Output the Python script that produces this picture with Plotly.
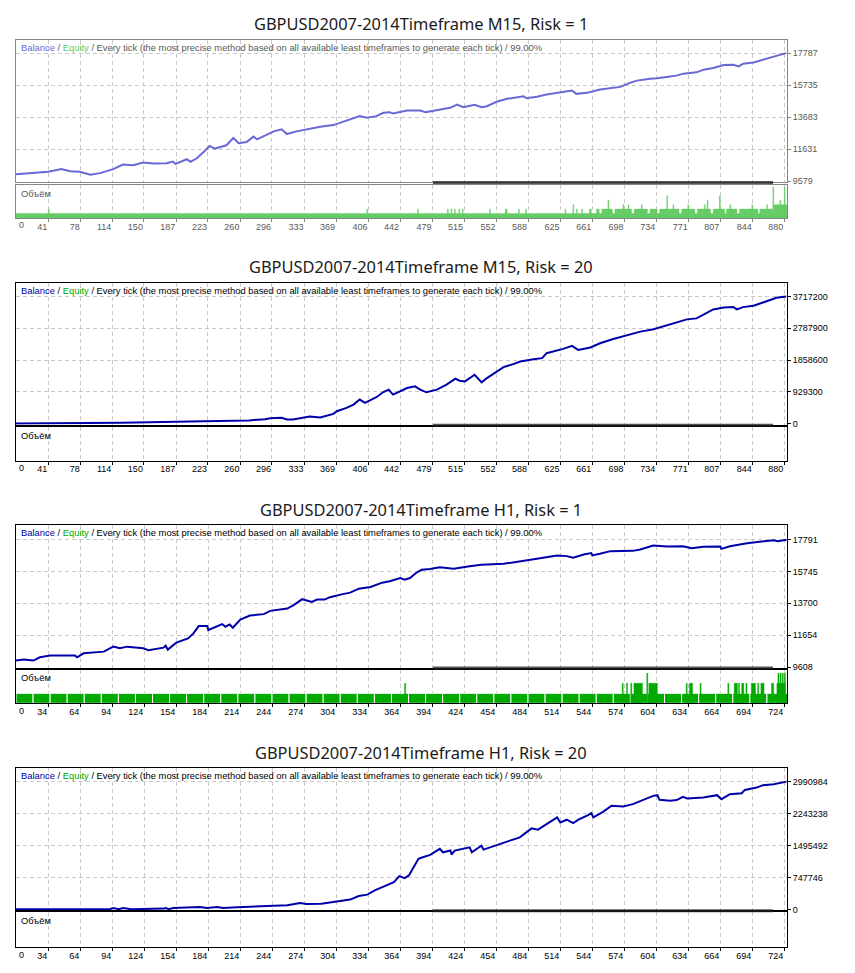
import plotly.graph_objects as go

# the page body has an 8px margin, so the figure is drawn 8px in from the window corner
PAGE_W, PAGE_H, OFF = 855, 973, 8
W, H = PAGE_W - 2 * OFF, PAGE_H - 2 * OFF

TITLES = [
    "GBPUSD2007-2014Timeframe M15, Risk = 1",
    "GBPUSD2007-2014Timeframe M15, Risk = 20",
    "GBPUSD2007-2014Timeframe H1, Risk = 1",
    "GBPUSD2007-2014Timeframe H1, Risk = 20",
]

# x tick labels (trade number)
xticks_m15 = [41, 78, 114, 150, 187, 223, 260, 296, 333, 369, 406, 442,
              479, 515, 552, 588, 625, 661, 698, 734, 771, 807, 844, 880]
xticks_h1 = [34, 64, 94, 124, 154, 184, 214, 244, 274, 304, 334, 364,
             394, 424, 454, 484, 514, 544, 574, 604, 634, 664, 694, 724]

# y tick labels (balance)
yticks_1 = [9579, 11631, 13683, 15735, 17787]
yticks_2 = [0, 929300, 1858600, 2787900, 3717200]
yticks_3 = [9608, 11654, 13700, 15745, 17791]
yticks_4 = [0, 747746, 1495492, 2243238, 2990984]

# M15, Risk = 1
trades_1 = [0, 24, 41, 56, 66, 77, 89, 100, 115, 126,
            138, 149, 161, 176, 183, 186, 199, 203, 210, 218,
            225, 231, 244, 252, 258, 267, 275, 279, 290, 298,
            307, 313, 324, 339, 351, 366, 381, 396, 404, 415,
            423, 430, 434, 450, 465, 471, 488, 499, 507, 514,
            527, 535, 541, 552, 564, 575, 583, 586, 598, 609,
            624, 638, 643, 655, 670, 685, 693, 704, 712, 727,
            735, 746, 757, 765, 780, 788, 799, 811, 822, 828,
            833, 845, 852, 860, 868, 879, 882]
balance_1 = [10000, 10089, 10172, 10345, 10217, 10172, 9981, 10089, 10345, 10644,
             10600, 10772, 10708, 10727, 10836, 10683, 10983, 10810, 11027, 11448,
             11831, 11665, 11876, 12342, 12003, 12087, 12431, 12259, 12578, 12769,
             12897, 12597, 12769, 12941, 13069, 13171, 13452, 13745, 13643, 13745,
             13962, 14000, 13917, 14109, 14110, 14000, 14173, 14281, 14492, 14320,
             14472, 14320, 14383, 14664, 14855, 14957, 15021, 14894, 14983, 15130,
             15238, 15385, 15174, 15238, 15449, 15557, 15621, 15876, 16023, 16150,
             16170, 16260, 16342, 16470, 16553, 16725, 16833, 17024, 17044, 16935,
             17107, 17190, 17299, 17471, 17573, 17745, 17787]

# M15, Risk = 20
trades_2 = [0, 125, 218, 252, 270, 288, 294, 307, 313, 320,
            332, 339, 351, 357, 366, 370, 381, 389, 396, 402,
            408, 415, 423, 429, 434, 442, 450, 459, 465, 472,
            484, 495, 505, 510, 516, 527, 531, 535, 541, 552,
            560, 571, 579, 594, 604, 609, 617, 628, 638, 645,
            659, 670, 685, 700, 716, 731, 742, 757, 769, 780,
            788, 799, 811, 822, 826, 833, 845, 852, 862, 871,
            882]
balance_2 = [10000, 30000, 78000, 96000, 100000, 136000, 165000, 174000, 126000, 126000,
             174000, 213000, 184000, 223000, 290000, 368000, 465000, 561000, 707000, 610000,
             678000, 775000, 929000, 997000, 852000, 949000, 1045000, 1094000, 997000, 920000,
             997000, 1142000, 1316000, 1258000, 1239000, 1433000, 1330000, 1210000, 1336000, 1510000,
             1655000, 1742000, 1820000, 1888000, 1917000, 2062000, 2111000, 2187000, 2274000, 2158000,
             2227000, 2352000, 2477000, 2576000, 2692000, 2759000, 2837000, 2962000, 3049000, 3078000,
             3194000, 3340000, 3398000, 3407000, 3340000, 3407000, 3446000, 3514000, 3610000, 3679000,
             3717200]

# H1, Risk = 1
trades_3 = [0, 11, 20, 26, 36, 59, 61, 67, 86, 95,
            101, 108, 123, 128, 142, 144, 146, 154, 165, 170,
            175, 183, 184, 189, 197, 200, 204, 207, 214, 223,
            236, 242, 258, 264, 272, 281, 286, 293, 298, 308,
            317, 325, 336, 347, 354, 364, 368, 373, 379, 384,
            392, 401, 414, 429, 440, 461, 473, 483, 492, 511,
            520, 526, 536, 543, 544, 551, 561, 582, 589, 601,
            614, 629, 637, 648, 664, 665, 673, 689, 701, 714,
            718, 726]
balance_3 = [10000, 10087, 10023, 10234, 10343, 10343, 10234, 10490, 10598, 10918,
             10810, 10918, 10810, 10682, 10854, 10982, 10726, 11174, 11448, 11768,
             12241, 12241, 11985, 12132, 12368, 12196, 12343, 12132, 12662, 12918,
             13007, 13218, 13366, 13582, 13966, 13793, 13940, 13940, 14094, 14260,
             14388, 14643, 14752, 15027, 15116, 15327, 15219, 15327, 15666, 15857,
             15902, 16011, 15922, 16075, 16177, 16241, 16350, 16458, 16560, 16777,
             16733, 16624, 16841, 16925, 16777, 16880, 17052, 17071, 17161, 17417,
             17353, 17372, 17244, 17327, 17353, 17199, 17372, 17564, 17672, 17755,
             17691, 17791]

# H1, Risk = 20
trades_4 = [0, 92, 95, 100, 104, 112, 142, 144, 147, 151,
            176, 183, 192, 198, 211, 239, 258, 270, 276, 290,
            301, 317, 325, 333, 340, 350, 358, 363, 368, 372,
            376, 381, 385, 392, 401, 404, 411, 412, 415, 429,
            431, 440, 442, 454, 464, 476, 487, 493, 504, 511,
            514, 520, 526, 531, 540, 543, 545, 554, 562, 573,
            582, 592, 601, 605, 607, 617, 623, 629, 633, 648,
            661, 665, 673, 684, 687, 698, 704, 714, 726]
balance_4 = [10000, 19000, 42000, 12000, 42000, 12000, 27000, 42000, 12000, 42000,
             65000, 42000, 65000, 42000, 58000, 81000, 104000, 158000, 135000, 143000,
             181000, 237000, 321000, 353000, 453000, 569000, 646000, 785000, 739000, 801000,
             971000, 1189000, 1226000, 1282000, 1421000, 1342000, 1382000, 1289000, 1382000, 1458000,
             1342000, 1498000, 1405000, 1498000, 1591000, 1691000, 1900000, 1869000, 2055000, 2155000,
             2039000, 2102000, 2025000, 2102000, 2211000, 2257000, 2155000, 2287000, 2427000, 2411000,
             2466000, 2566000, 2659000, 2675000, 2566000, 2543000, 2560000, 2636000, 2597000, 2620000,
             2675000, 2582000, 2698000, 2721000, 2798000, 2852000, 2908000, 2931000, 2990984]

# volume (lots): segments (first trade, last trade + 1, lot)
volume_1 = [(0, 883, 0.1),
            (41, 42, 0.2), (404, 405, 0.2), (462, 463, 0.2), (496, 497, 0.2), (500, 501, 0.2),
            (504, 505, 0.2), (509, 510, 0.2), (513, 514, 0.2), (544, 545, 0.2), (562, 564, 0.2),
            (577, 578, 0.2), (585, 586, 0.2), (630, 631, 0.2), (639, 640, 0.3), (643, 644, 0.2),
            (649, 650, 0.2), (658, 660, 0.2), (666, 669, 0.2), (672, 684, 0.2), (687, 706, 0.2),
            (709, 724, 0.2), (727, 735, 0.2), (738, 760, 0.2), (763, 778, 0.2), (781, 796, 0.2),
            (799, 812, 0.2), (814, 826, 0.2), (829, 850, 0.2), (852, 867, 0.2), (868, 883, 0.3),
            (679, 680, 0.4), (696, 697, 0.3), (702, 703, 0.3), (717, 718, 0.3), (746, 747, 0.5),
            (753, 754, 0.3), (770, 771, 0.3), (789, 790, 0.3), (792, 793, 0.4), (806, 807, 0.5),
            (818, 819, 0.3), (843, 844, 0.3), (860, 861, 0.3), (867, 868, 0.7), (875, 876, 0.4),
            (880, 881, 0.7)]
volume_3_base = 0.1
volume_3 = [(368, 369, 0.2), (572, 573, 0.2), (576, 577, 0.2), (580, 581, 0.2), (583, 591, 0.2),
            (595, 596, 0.3), (597, 605, 0.2), (632, 633, 0.2), (635, 638, 0.2), (645, 646, 0.2),
            (671, 672, 0.2), (677, 680, 0.2), (681, 682, 0.2), (684, 686, 0.2), (688, 689, 0.2),
            (693, 697, 0.2), (699, 700, 0.2), (702, 705, 0.2), (712, 714, 0.2), (717, 725, 0.2),
            (718, 719, 0.3), (720, 721, 0.3), (722, 723, 0.3), (724, 725, 0.3)]

LEGEND = ("<span style='color:{b}'>Balance</span> / <span style='color:{e}'>Equity</span>"
          " / Every tick (the most precise method based on all available least timeframes"
          " to generate each tick) / 99.00%")

# pixel geometry (window coords): main box top/bottom, volume box top/bottom, title centre
GEOM = [
    (40, 183, 185.5, 219, 24),
    (284, 427, 429.5, 463, 268),
    (528, 671, 673, 707, 512),
    (772, 915, 917, 952, 756),
]
X0, X1 = 16, 787

faded = dict(line='rgb(104,104,214)', bal='rgb(104,104,214)', eq='rgb(102,204,102)',
             text='#5a5a5a', frame='#858585', vol='rgb(102,204,102)')
dark = dict(line='#0000aa', bal='#0000aa', eq='#00aa00',
            text='#000000', frame='#000000', vol='rgb(0,170,0)')

panels = [
    dict(t=trades_1, b=balance_1, yt=yticks_1, xt=xticks_m15, xr=[4.2, 883.1],
         yr=[9515, 18639], vr=[0, 0.755], st=faded),
    dict(t=trades_2, b=balance_2, yt=yticks_2, xt=xticks_m15, xr=[4.2, 883.1],
         yr=[-29041, 4123800], vr=[0, 0.755], st=dark),
    dict(t=trades_3, b=balance_3, yt=yticks_3, xt=xticks_h1, xr=[3.7, 726.5],
         yr=[9576, 18714], vr=[0, 0.336], st=dark),
    dict(t=trades_4, b=balance_4, yt=yticks_4, xt=xticks_h1, xr=[3.7, 726.5],
         yr=[-11611, 3309135], vr=[0, 0.336], st=dark),
]


def fy(px):
    return 1 - (px - OFF) / H


def fx(px):
    return (px - OFF) / W


tick_font = dict(family="Liberation Sans, Arial, sans-serif", size=9)
grid = dict(gridcolor='#c9c9c9', griddash='4px,3px', gridwidth=1)

fig = go.Figure()
layout = dict(width=W, height=H, margin=dict(l=0, r=0, t=0, b=0),
              plot_bgcolor='white', paper_bgcolor='white', showlegend=False,
              barmode='overlay', annotations=[], shapes=[])

for i, p in enumerate(panels):
    st = p['st']
    top, bot, vtop, vbot, ty = GEOM[i]
    nm, nv = 2 * i + 1, 2 * i + 2
    sm = '' if nm == 1 else str(nm)
    sv = str(nv)

    layout['xaxis' + sm] = dict(
        domain=[fx(X0), fx(X1)], range=p['xr'], anchor='y' + sm,
        tickvals=p['xt'], showticklabels=False, ticks='', showgrid=True, **grid,
        zeroline=False, showline=True, mirror=True, linecolor=st['frame'], linewidth=1)
    layout['yaxis' + sm] = dict(
        domain=[fy(bot), fy(top)], range=p['yr'], anchor='x' + sm, side='right',
        tickvals=p['yt'], tickformat='d', ticks='outside', ticklen=3, tickcolor=st['frame'],
        tickfont=dict(color=st['text'], **tick_font), showgrid=True, **grid,
        zeroline=False, showline=True, mirror=True, linecolor=st['frame'], linewidth=1)
    layout['xaxis' + sv] = dict(
        domain=[fx(X0), fx(X1)], range=p['xr'], anchor='y' + sv,
        tickvals=p['xt'], tickformat='d', ticks='outside', ticklen=3, tickcolor=st['frame'],
        ticklabelposition='outside left',
        tickfont=dict(color=st['text'], **tick_font), showgrid=True, **grid,
        zeroline=False, showline=True, mirror=True, linecolor=st['frame'], linewidth=1)
    layout['yaxis' + sv] = dict(
        domain=[fy(vbot), fy(vtop)], range=p['vr'], anchor='x' + sv, side='right',
        showticklabels=False, ticks='', showgrid=False, zeroline=False,
        showline=True, mirror=True, linecolor=st['frame'], linewidth=1)

    fig.add_trace(go.Scatter(x=p['t'], y=p['b'], mode='lines',
                             line=dict(color=st['line'], width=2),
                             xaxis='x' + sm, yaxis='y' + sm))
    # keeps the (empty) volume pane on the page
    fig.add_trace(go.Scatter(x=[], y=[], mode='lines', xaxis='x' + sv, yaxis='y' + sv))

    layout['annotations'] += [
        dict(text=TITLES[i], x=fx(421), y=fy(ty), xref='paper', yref='paper',
             xanchor='center', yanchor='middle', showarrow=False,
             font=dict(family="Noto Sans, Open Sans, sans-serif", size=16.4, color='#1a1a1a')),
        dict(text=LEGEND.format(b=st['bal'], e=st['eq']), x=fx(19), y=fy(top + 7.5),
             xref='paper', yref='paper', xanchor='left', yanchor='middle', showarrow=False,
             font=dict(color=st['text'], family=tick_font['family'], size=9.4)),
        dict(text='Объём', x=fx(19), y=fy(vtop + 8.5), xref='paper', yref='paper',
             xanchor='left', yanchor='middle', showarrow=False,
             font=dict(color=st['text'], family=tick_font['family'], size=9.4)),
        dict(text='0', x=fx(17), y=fy(vbot + 7.5), xref='paper', yref='paper',
             xanchor='left', yanchor='middle', showarrow=False,
             font=dict(color=st['text'], **tick_font)),
    ]

    # smeared dark stroke along the bottom of each balance box
    layout['shapes'].append(dict(type='line', xref='paper', yref='paper',
                                 x0=fx(433), x1=fx(773), y0=fy(bot + 0.5), y1=fy(bot + 0.5),
                                 line=dict(color='rgba(30,30,30,0.75)', width=3)))


# volume histograms
def add_volume(segments, color, n):
    fig.add_trace(go.Bar(x=[(s + e) / 2 for s, e, v in segments],
                         y=[v for s, e, v in segments],
                         width=[e - s for s, e, v in segments],
                         marker=dict(color=color, line=dict(color=color, width=0.4)),
                         xaxis='x' + str(n), yaxis='y' + str(n)))


add_volume(volume_1, faded['vol'], 2)

# H1 risk 1: the base lot is drawn in blocks of 16 trades separated by thin white gaps
block = 16
starts = list(range(0, 724, block))
fig.add_trace(go.Bar(x=[3.7 + s + block / 2 for s in starts], y=[volume_3_base] * len(starts),
                     width=[block] * len(starts),
                     marker=dict(color=dark['vol'], line=dict(color='white', width=1)),
                     xaxis='x6', yaxis='y6'))
add_volume(volume_3, dark['vol'], 6)

fig.update_layout(**layout)
fig.write_html("out.html")
